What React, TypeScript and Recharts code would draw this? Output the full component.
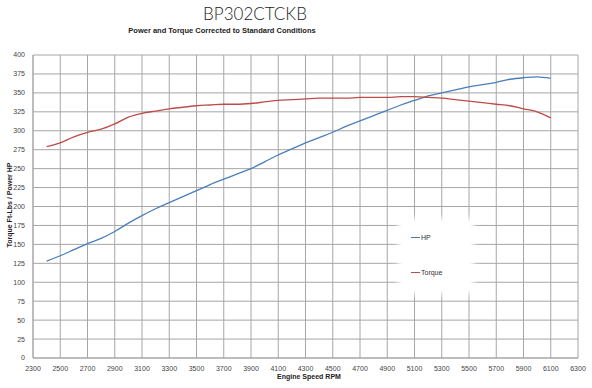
import { CartesianGrid, Line, LineChart, XAxis, YAxis } from "recharts";

const rpm = [
  2400, 2500, 2600, 2700, 2800, 2900, 3000, 3100, 3200, 3300, 3400, 3500, 3600, 3700, 3800, 3900, 4000, 4100, 4200,
  4300, 4400, 4500, 4600, 4700, 4800, 4900, 5000, 5100, 5200, 5300, 5400, 5500, 5600, 5700, 5800, 5900, 6000, 6100,
];
const hp = [
  128, 135, 143, 151, 158, 167, 178, 188, 197, 205, 213, 221, 229, 236, 243, 250, 259, 268, 276, 284, 291, 298, 306,
  313, 320, 327, 334, 340, 346, 350, 354, 358, 361, 364, 368, 370, 371, 369,
];
const torque = [
  279, 284, 292, 298, 302, 309, 318, 323, 326, 329, 331, 333, 334, 335, 335, 336, 338, 340, 341, 342, 343, 343, 343,
  344, 344, 344, 345, 345, 344, 343, 341, 339, 337, 335, 333, 329, 325, 317,
];
const xTicks = [2300, 2500, 2700, 2900, 3100, 3300, 3500, 3700, 3900, 4100, 4300, 4500, 4700, 4900, 5100, 5300, 5500, 5700, 5900, 6100, 6300];
const yTicks = [0, 25, 50, 75, 100, 125, 150, 175, 200, 225, 250, 275, 300, 325, 350, 375, 400];

const data = rpm.map((r, i) => ({ rpm: r, hp: hp[i], torque: torque[i] }));

const HP_COLOR = "#4a7ebb";
const TQ_COLOR = "#be4b48";
const font = "'Liberation Sans', Arial, sans-serif";

export default function App() {
  return (
    <div style={{ position: "absolute", left: 0, top: 0, width: 592, height: 388, background: "#fff", fontFamily: font }}>
      <div style={{ position: "absolute", left: 155, width: 200, top: 4, textAlign: "center", fontSize: 17, lineHeight: "20px", fontWeight: 300, color: "#222", fontFamily: "Lato, 'Open Sans', sans-serif" }}>
        BP302CTCKB
      </div>
      <div style={{ position: "absolute", left: 100, width: 244, top: 26, textAlign: "center", fontSize: 7.5, lineHeight: "10px", fontWeight: "bold", color: "#222" }}>
        Power and Torque Corrected to Standard Conditions
      </div>
      <LineChart width={592} height={388} data={data} margin={{ top: 55, right: 14, left: 8, bottom: 0 }}>
        <CartesianGrid stroke="#a6a6a6" strokeWidth={1} horizontalValues={yTicks} verticalValues={xTicks} />
        <XAxis
          dataKey="rpm"
          type="number"
          domain={[2300, 6300]}
          ticks={xTicks}
          interval={0}
          height={30}
          tick={{ fontSize: 7, fill: "#444" }}
          tickLine={false}
          axisLine={{ stroke: "#a6a6a6" }}
        />
        <YAxis
          type="number"
          domain={[0, 400]}
          ticks={yTicks}
          interval={0}
          width={25}
          tick={{ fontSize: 7, fill: "#444" }}
          tickLine={false}
          axisLine={{ stroke: "#a6a6a6" }}
        />
        <Line dataKey="hp" stroke={HP_COLOR} strokeWidth={1.3} dot={false} type="monotone" isAnimationActive={false} />
        <Line dataKey="torque" stroke={TQ_COLOR} strokeWidth={1.3} dot={false} type="monotone" isAnimationActive={false} />
      </LineChart>
      <div
        style={{
          position: "absolute",
          left: 9,
          top: 205,
          transform: "translate(-50%, -50%) rotate(-90deg)",
          fontSize: 7,
          fontWeight: "bold",
          color: "#222",
          whiteSpace: "nowrap",
        }}
      >
        Torque Ft-Lbs / Power HP
      </div>
      <div style={{ position: "absolute", left: 259, width: 100, top: 373, textAlign: "center", fontSize: 7, fontWeight: "bold", color: "#222" }}>
        Engine Speed RPM
      </div>
      <div
        style={{
          position: "absolute",
          left: 402,
          top: 222,
          width: 68,
          height: 68,
          background: "#fff",
          boxShadow: "0 0 6px 4px #fff",
        }}
      >
        <div style={{ position: "absolute", left: 9, top: 12, display: "flex", alignItems: "center", fontSize: 7, color: "#333" }}>
          <span style={{ display: "inline-block", width: 9, height: 1.5, background: HP_COLOR, marginRight: 1 }} />
          HP
        </div>
        <div style={{ position: "absolute", left: 9, top: 47, display: "flex", alignItems: "center", fontSize: 7, color: "#333" }}>
          <span style={{ display: "inline-block", width: 9, height: 1.5, background: TQ_COLOR, marginRight: 1 }} />
          Torque
        </div>
      </div>
    </div>
  );
}
